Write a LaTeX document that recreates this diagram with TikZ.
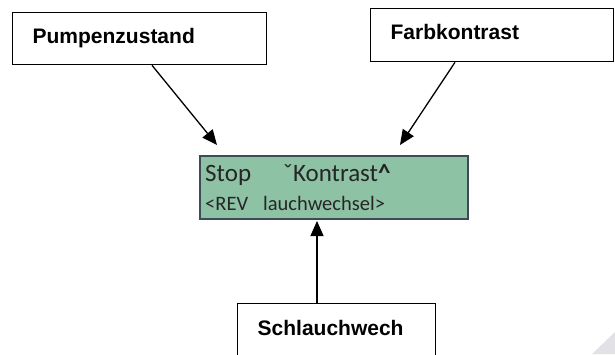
\documentclass[tikz,border=0pt]{standalone}
\usepackage{fontspec}
\setmainfont{Liberation Sans}
\newfontfamily\lcdfont{Carlito}
\usetikzlibrary{arrows.meta}
\definecolor{lcdgreen}{RGB}{141,194,165}
\definecolor{lcdborder}{RGB}{62,74,88}
\definecolor{curl}{RGB}{226,226,230}
\tikzset{
  labelbox/.style={draw=black, line width=1.3pt, fill=white, anchor=north west,
    inner ysep=0pt, inner xsep=20pt, align=left,
    font=\fontsize{21}{24}\selectfont\bfseries},
  pointer/.style={line width=1.3pt, -{Triangle[length=15pt,width=13pt]}},
  lcdline/.style={anchor=base west, inner sep=0pt, text=black!85}
}
\begin{document}
\begin{tikzpicture}[x=1pt,y=-1pt]
\useasboundingbox (0,0) rectangle (615,354);
\fill[curl] (592,354) -- (615,332) -- (615,354) -- cycle;
% label boxes
\node[labelbox, text width=214pt, text height=31pt, text depth=21pt] (pump) at (12,12) {Pumpenzustand};
\node[labelbox, text width=203pt, text height=31pt, text depth=22pt] (farb) at (370,8) {Farbkontrast};
\node[labelbox, text width=158pt, text height=32pt, text depth=45pt] (schl) at (237,303) {Schlauchwech};
% LCD display
\node[draw=lcdborder, line width=1.8pt, fill=lcdgreen, anchor=north west,
  minimum width=268pt, minimum height=63pt, inner sep=0pt] (lcd) at (199,155) {};
\node[lcdline, font=\lcdfont\fontsize{25}{28}\selectfont] (lcdA) at (205,181)
  {\makebox[78pt][l]{Stop}ˇKontrast{\bfseries\char94}};
\node[lcdline, font=\lcdfont\fontsize{20.5}{24}\selectfont] (lcdB) at (205,210)
  {\makebox[58pt][l]{<REV}lauchwechsel>};
% arrow ends
\coordinate (tipP) at (217,145);
\coordinate (tipF) at (400,145);
\coordinate (tipS) at (317,221);
\draw[pointer] ([xshift=140pt]pump.south west) -- (tipP);
\draw[pointer] ([xshift=85pt]farb.south west) -- (tipF);
\draw[pointer] ([xshift=80pt]schl.north west) -- (tipS);
\end{tikzpicture}
\end{document}
